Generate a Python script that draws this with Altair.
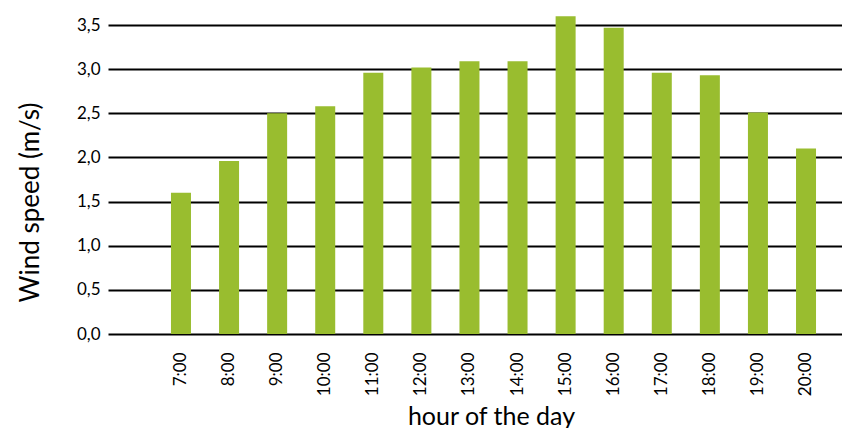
import altair as alt
import pandas as pd

hours = ["7:00", "8:00", "9:00", "10:00", "11:00", "12:00", "13:00",
         "14:00", "15:00", "16:00", "17:00", "18:00", "19:00", "20:00"]
speeds = [1.60, 1.96, 2.50, 2.58, 2.96, 3.02, 3.09,
          3.09, 3.60, 3.47, 2.96, 2.93, 2.51, 2.10]

df = pd.DataFrame({"hour": hours, "speed": speeds})

FONT = "Lato"

chart = alt.Chart(df).mark_bar(color="#99bd2f").encode(
    x=alt.X(
        "hour:N",
        sort=hours,
        scale=alt.Scale(paddingInner=0.584, paddingOuter=0.925, align=0.708),
        axis=alt.Axis(
            title="hour of the day",
            labelAngle=-90,
            labelAlign="right",
            labelBaseline="middle",
            labelPadding=18,
            labelFontSize=17,
            labelFont=FONT,
            labelColor="#000000",
            ticks=False,
            domain=False,
            grid=False,
            titleFont=FONT,
            titleFontSize=25,
            titleFontWeight="normal",
            titleColor="#000000",
            titleX=383,
            titleY=90,
            titleAlign="center",
            titleBaseline="alphabetic",
        ),
    ),
    y=alt.Y(
        "speed:Q",
        scale=alt.Scale(domain=[0, 3.5], nice=False),
        axis=alt.Axis(
            title="Wind speed (m/s)",
            values=[0, 0.5, 1, 1.5, 2, 2.5, 3, 3.5],
            labelExpr="replace(format(datum.value, '.1f'), '.', ',')",
            labelFontSize=17,
            labelFont=FONT,
            labelColor="#000000",
            labelPadding=8,
            ticks=False,
            domain=False,
            grid=True,
            gridColor="#000000",
            gridWidth=2,
            gridOpacity=1,
            titleFont=FONT,
            titleFontSize=26,
            titleFontWeight="normal",
            titleColor="#000000",
            titleAngle=-90,
            titleX=-70,
            titleY=177,
            titleAlign="center",
            titleBaseline="alphabetic",
        ),
    ),
).properties(
    width=734,
    height=309,
    autosize=alt.AutoSizeParams(type="none"),
    padding={"left": 100, "top": 17, "right": 0, "bottom": 94},
).configure_view(stroke=None)

chart.save("out.html", embed_options={"renderer": "svg", "actions": False})
